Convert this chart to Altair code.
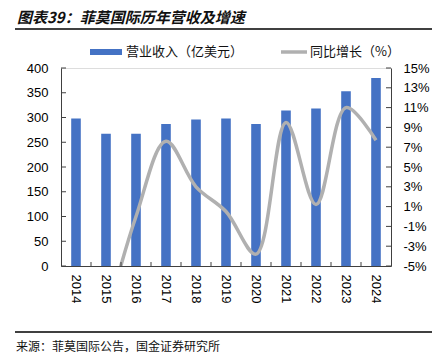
import altair as alt
import pandas as pd

years = ["2014", "2015", "2016", "2017", "2018", "2019", "2020", "2021", "2022", "2023", "2024"]
revenue = [298, 267, 267, 287, 296, 298, 287, 314, 318, 353, 380]
growth_years = ["2015", "2016", "2017", "2018", "2019", "2020", "2021", "2022", "2023", "2024"]
growth = [-10.4, 0.0, 7.6, 3.0, 0.5, -3.8, 9.5, 1.2, 11.0, 7.7]
left_ticks = [0, 50, 100, 150, 200, 250, 300, 350, 400]
right_ticks = [-5, -3, -1, 1, 3, 5, 7, 9, 11, 13, 15]

title_text = "图表39：菲莫国际历年营收及增速"
legend_bar = "营业收入（亿美元）"
legend_line = "同比增长（%）"
source_text = "来源：菲莫国际公告，国金证券研究所"

W, H = 330, 198
BLUE = "#4472C4"
GRAY = "#B0B0B0"
AX = "#404040"
NUM_FONT = "Liberation Sans"
CJK = "Noto Sans CJK SC"

bars_df = pd.DataFrame({"year": years, "rev": revenue})
line_df = pd.DataFrame({"year": growth_years, "g": growth})
lt_df = pd.DataFrame({"v": left_ticks})
rt_df = pd.DataFrame({"v": right_ticks})
xt_df = pd.DataFrame({"year": years[1:]})

xscale = alt.Scale(domain=years, paddingInner=0, paddingOuter=0)
yl = alt.Scale(domain=[0, 400], nice=False, zero=False)
yr = alt.Scale(domain=[-5, 15], nice=False, zero=False)

xaxis = alt.Axis(labelAngle=90, labelAlign="left", labelBaseline="middle",
                 labelPadding=8, ticks=False, tickSize=0, labelFont=NUM_FONT,
                 labelFontSize=13, labelColor="#000000", domainColor=AX, title=None)

bars = alt.Chart(bars_df).mark_bar(color=BLUE, width=alt.RelativeBandSize(0.32)).encode(
    x=alt.X("year:N", scale=xscale, sort=years, title=None, axis=xaxis),
    y=alt.Y("rev:Q", scale=yl, title=None,
            axis=alt.Axis(orient="left", values=left_ticks, grid=False, ticks=False, tickSize=0,
                          labelPadding=13, labelFont=NUM_FONT, labelFontSize=13,
                          labelColor="#000000", domainColor=AX)),
)

line = alt.Chart(line_df).mark_line(color=GRAY, strokeWidth=3.5, interpolate="catmull-rom", clip=True).encode(
    x=alt.X("year:N", scale=xscale, sort=years, title=None, axis=xaxis),
    y=alt.Y("g:Q", scale=yr, title=None,
            axis=alt.Axis(orient="right", values=right_ticks, grid=False, ticks=False, tickSize=0,
                          labelPadding=12, labelFont=NUM_FONT, labelFontSize=13,
                          labelColor="#000000", domainColor=AX,
                          labelExpr="datum.value + '%'")),
)

lticks = alt.Chart(lt_df).mark_rule(color=AX, strokeWidth=1).encode(
    y=alt.Y("v:Q", scale=yl, axis=None), x=alt.value(0), x2=alt.value(5))
rticks = alt.Chart(rt_df).mark_rule(color=AX, strokeWidth=1).encode(
    y=alt.Y("v:Q", scale=yr, axis=None), x=alt.value(W - 5), x2=alt.value(W))
xticks = alt.Chart(xt_df).mark_rule(color=AX, strokeWidth=1).encode(
    x=alt.X("year:N", scale=xscale, sort=years, bandPosition=0, title=None, axis=xaxis),
    y=alt.value(H - 4), y2=alt.value(H))


def txt(s, x, y, size, **kw):
    return alt.Chart(pd.DataFrame({"t": [s]})).mark_text(
        align="left", baseline="middle", fontSize=size, font=CJK, **kw).encode(
        text="t:N", x=alt.value(x), y=alt.value(y))


def rule(x1, x2, y1, y2, color, width):
    return alt.Chart(pd.DataFrame({"a": [0]})).mark_rule(color=color, strokeWidth=width).encode(
        x=alt.value(x1), x2=alt.value(x2), y=alt.value(y1), y2=alt.value(y2))


title = txt(title_text, -44, -50, 15, fontWeight="bold", fontStyle="italic", color="#111111")
title_line = rule(-46, 371, -39, -39, "#000000", 1.5)
src_line = rule(-46, 371, 264, 264, "#000000", 1.5)
src = txt(source_text, -45, 279, 12, color="#111111")
leg_rect = alt.Chart(pd.DataFrame({"a": [0]})).mark_rect(color=BLUE).encode(
    x=alt.value(29), x2=alt.value(61), y=alt.value(-19), y2=alt.value(-13))
leg_line = rule(220, 246, -16, -16, GRAY, 3.5)
leg_t1 = txt(legend_bar, 65, -16, 13, color="#111111")
leg_t2 = txt(legend_line, 249, -16, 13, color="#111111")

chart = alt.layer(
    bars, line, lticks, rticks, xticks,
    title, title_line, src_line, src, leg_rect, leg_line, leg_t1, leg_t2
).resolve_scale(y="independent").properties(
    width=W, height=H,
    autosize=alt.AutoSizeParams(type="none"),
    padding={"left": 53, "top": 60, "right": 41, "bottom": 87},
).configure_view(stroke=None).configure(background="white")

chart.save("out.html", embed_options={"renderer": "svg", "actions": False})
